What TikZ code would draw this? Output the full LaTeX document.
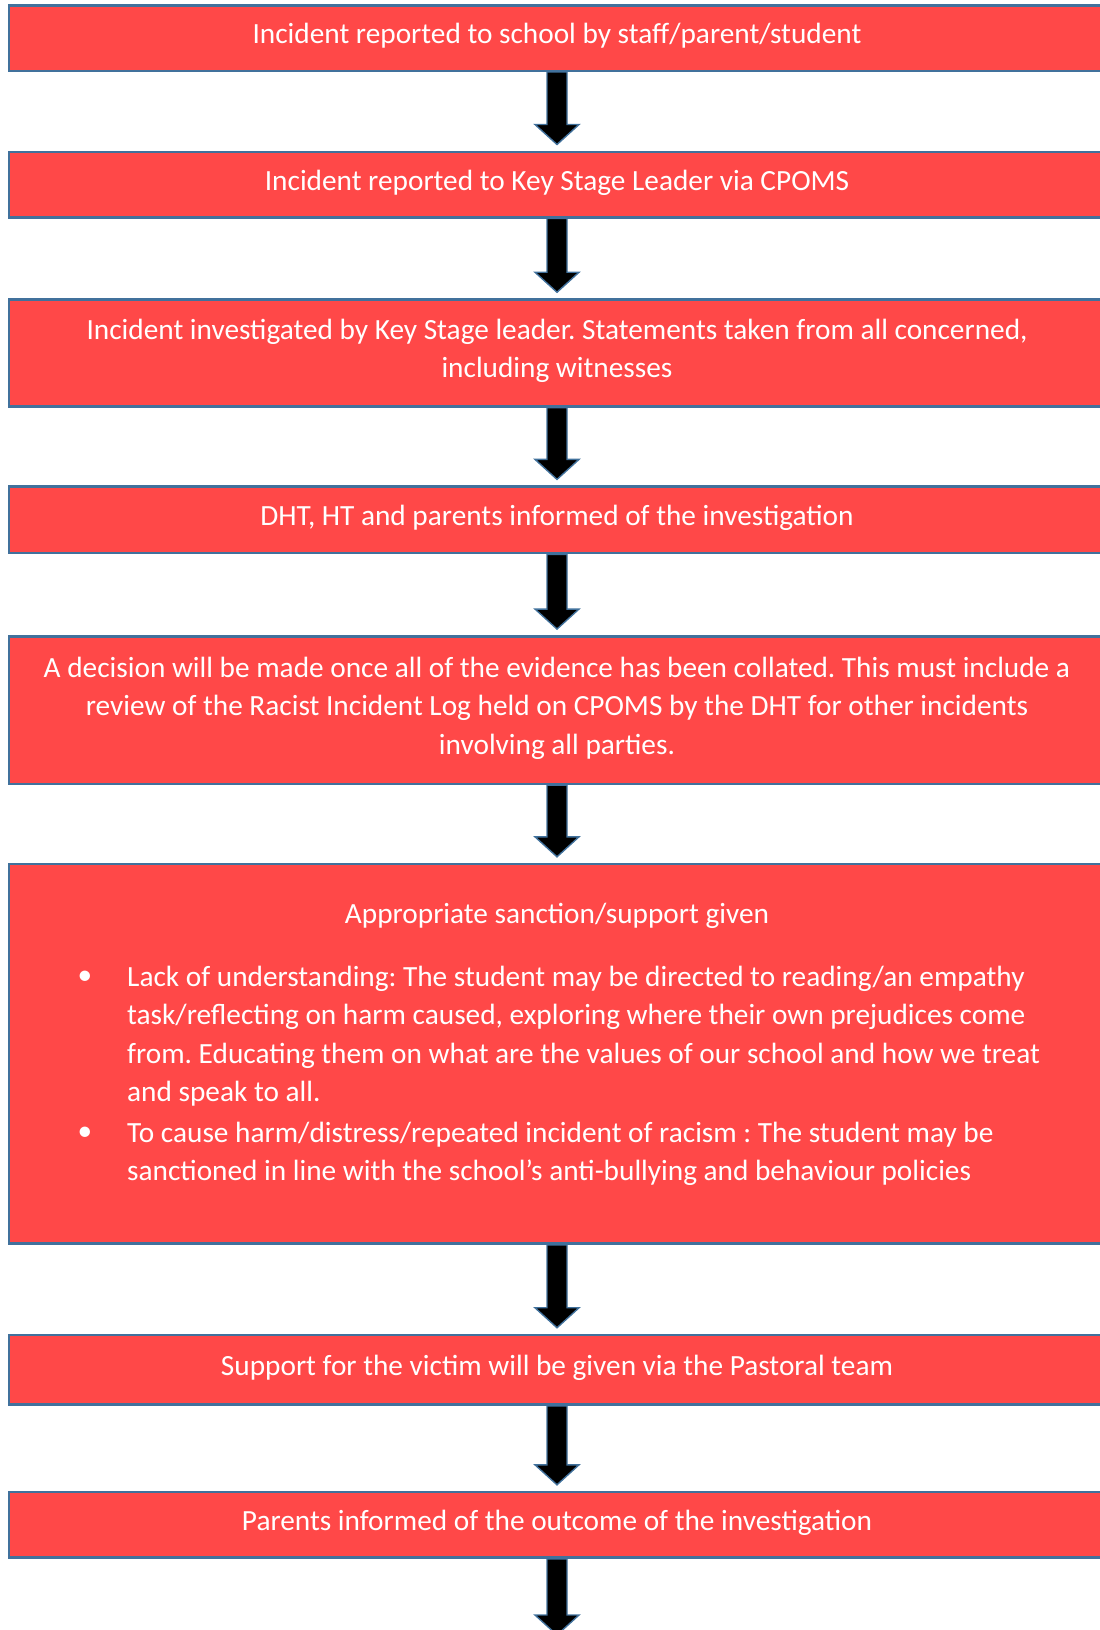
\documentclass[tikz,border=0pt]{standalone}
\usepackage{fontspec}
\setmainfont{Carlito}
\usepackage{xcolor}
\usetikzlibrary{calc}
\definecolor{boxred}{HTML}{FF4848}
\definecolor{edge}{HTML}{41719C}
\frenchspacing
\newcommand{\flowarrow}[2]{%
    % #1=start anchor, #2=target anchor
    \draw[downarrow] ($(#1)+(-10,0)$) -- ($(#2)+(-10,-26)$) -- ($(#2)+(-22,-26)$)
        -- ($(#2)+(0,-6)$) -- ($(#2)+(22,-26)$) -- ($(#2)+(10,-26)$) -- ($(#1)+(10,0)$) -- cycle;
}

\begin{document}
\begin{tikzpicture}[x=1pt, y=-1pt,
    stepbox/.style={rectangle, draw=edge, line width=2.5pt, fill=boxred, text=white, minimum width=1096pt, align=center, inner sep=0pt, text depth=9pt, font=\fontsize{29.3}{38.5}\selectfont},
    bodytext/.style={text=white, align=left, inner sep=0pt, font=\fontsize{29.3}{38.5}\selectfont},
    downarrow/.style={draw=edge, line width=1.4pt, fill=black}
]
    \useasboundingbox (0,0) rectangle (1100,1630);

    \node[stepbox, minimum height=65.5pt] (b1) at (557,38) {Incident reported to school by staff/parent/student};
    \node[stepbox, minimum height=65.5pt] (b2) at (557,184.5) {Incident reported to Key Stage Leader via CPOMS};
    \node[stepbox, minimum height=107pt] (b3) at (557,353) {Incident investigated by Key Stage leader. Statements taken from all concerned,\\including witnesses};
    \node[stepbox, minimum height=66.5pt] (b4) at (557,519.9) {DHT, HT and parents informed of the investigation};
    \node[stepbox, minimum height=147.6pt] (b5) at (557,710.1) {A decision will be made once all of the evidence has been collated. This must include a\\review of the Racist Incident Log held on CPOMS by the DHT for other incidents\\involving all parties.};

    % sanction box: heading plus two bullet points
    \node[stepbox, minimum height=379.5pt] (b6) at (557,1053.8) {};
    \node[bodytext] (b6title) at (557,916) {Appropriate sanction/support given};
    \node[bodytext] (dot1) at (85,978) {•};
    \node[bodytext, anchor=west] (item1) at (127,1036) {Lack of understanding: The student may be directed to reading/an empathy\\task/reflecting on harm caused, exploring where their own prejudices come\\from. Educating them on what are the values of our school and how we treat\\and speak to all.};
    \node[bodytext] (dot2) at (85,1134) {•};
    \node[bodytext, anchor=west] (item2) at (127,1154) {To cause harm/distress/repeated incident of racism : The student may be\\sanctioned in line with the school’s anti-bullying and behaviour policies};

    \node[stepbox, minimum height=69.6pt] (b7) at (557,1369.8) {Support for the victim will be given via the Pastoral team};
    \node[stepbox, minimum height=65.5pt] (b8) at (557,1524.8) {Parents informed of the outcome of the investigation};
    \coordinate (end) at (557,1641);

    \flowarrow{b1.south}{b2.north}
    \flowarrow{b2.south}{b3.north}
    \flowarrow{b3.south}{b4.north}
    \flowarrow{b4.south}{b5.north}
    \flowarrow{b5.south}{b6.north}
    \flowarrow{b6.south}{b7.north}
    \flowarrow{b7.south}{b8.north}
    \flowarrow{b8.south}{end}
\end{tikzpicture}
\end{document}
